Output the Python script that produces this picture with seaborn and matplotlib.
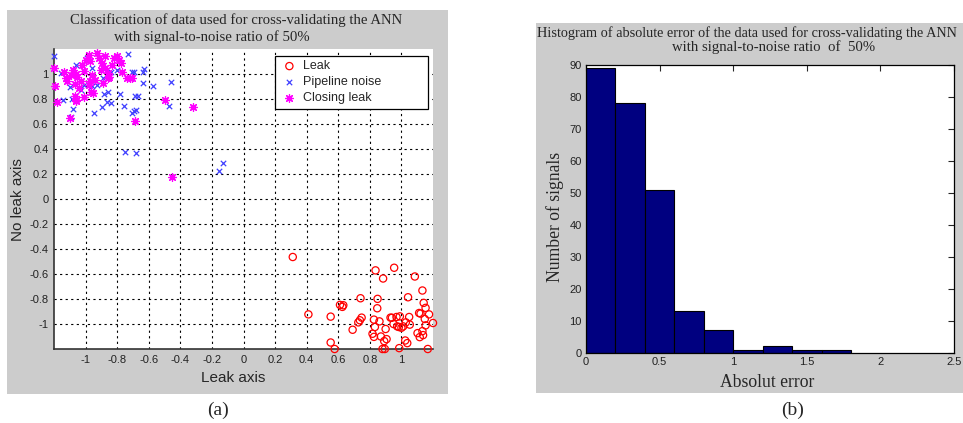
import numpy as np
import pandas as pd
import matplotlib
matplotlib.use("Agg")
import matplotlib.pyplot as plt
from matplotlib.patches import Rectangle
import seaborn as sns

# ---------------- data ----------------
leak_x = [0.312, 0.411, 0.552, 0.552, 0.577, 0.611, 0.626, 0.632, 0.691, 0.727, 0.741, 0.748,
          0.737, 0.836, 0.849, 0.847, 0.826, 0.861, 0.832, 0.817, 0.826, 0.884, 0.891, 0.880,
          0.895, 0.906, 0.900, 0.954, 0.931, 0.969, 0.973, 0.990, 0.984, 0.986, 1.011, 1.028,
          1.024, 1.037, 1.042, 1.049, 1.053, 1.085, 1.112, 1.121, 1.102, 1.116, 1.137, 1.133,
          1.141, 1.153, 1.148, 1.153, 1.175, 1.200, 1.167, 1.133, 0.940, 1.000, 0.870, 0.950]
leak_y = [-0.464, -0.923, -0.941, -1.148, -1.200, -0.847, -0.863, -0.850, -1.046, -0.987, -0.794, -0.949,
          -0.970, -0.571, -0.799, -0.874, -0.965, -0.979, -1.024, -1.078, -1.103, -0.636, -1.137, -1.200,
          -1.200, -1.121, -1.040, -0.550, -0.949, -0.944, -1.019, -0.939, -1.024, -1.193, -1.019, -0.987,
          -1.132, -1.153, -0.786, -0.944, -1.005, -0.620, -0.912, -0.917, -1.073, -1.105, -1.089, -0.732,
          -0.831, -0.871, -0.960, -1.011, -0.923, -0.992, -1.200, -1.057, -0.950, -1.030, -1.100, -1.000]

noise_x = [-1.200, -1.154, -1.137, -1.143, -1.088, -1.080, -1.095, -1.099, -1.063, -1.032, -1.011,
           -0.989, -0.958, -0.958, -0.948, -0.926, -0.899, -0.888, -0.884, -0.867, -0.859, -0.842,
           -0.838, -0.800, -0.779, -0.754, -0.733, -0.705, -0.695, -0.705, -0.695, -0.678, -0.684,
           -0.670, -0.752, -0.678, -0.638, -0.628, -0.636, -0.572, -0.457, -0.469, -0.132, -0.153]
noise_y = [1.140, 1.006, 1.019, 0.791, 0.799, 0.718, 0.657, 0.899, 1.072, 0.871, 0.912,
           1.126, 1.046, 0.900, 0.684, 0.912, 0.737, 0.971, 0.837, 0.778, 0.853, 0.764,
           1.019, 1.032, 0.837, 0.743, 1.158, 1.019, 1.019, 0.684, 0.700, 0.710, 0.826,
           0.826, 0.376, 0.368, 1.019, 1.040, 0.931, 0.903, 0.933, 0.740, 0.287, 0.220]

closing_x = [-1.200, -1.194, -1.179, -1.101, -1.063, -1.070, -1.126, -1.120, -1.095, -1.137, -1.080,
             -1.060, -1.052, -1.070, -1.042, -1.030, -1.010, -1.020, -1.000, -0.979, -0.970, -0.960,
             -0.970, -0.980, -0.968, -0.950, -0.940, -0.926, -0.915, -0.895, -0.900, -0.880, -0.874,
             -0.860, -0.852, -0.830, -0.820, -0.800, -0.790, -0.778, -0.768, -0.737, -0.720, -0.705,
             -0.684, -0.857, -0.890, -1.011, -1.060, -0.499, -0.320, -0.452]
closing_y = [1.051, 0.903, 0.778, 0.644, 0.791, 0.820, 0.965, 0.940, 0.992, 1.019, 1.030,
             1.000, 0.979, 0.920, 0.885, 0.940, 1.020, 1.070, 1.113, 1.153, 1.100, 0.990,
             0.940, 0.910, 0.858, 0.845, 0.950, 1.166, 1.126, 1.087, 1.030, 1.046, 1.140,
             1.006, 0.979, 1.070, 1.126, 1.140, 1.110, 1.090, 1.019, 0.971, 0.970, 0.970,
             0.622, 0.965, 0.930, 0.818, 0.780, 0.791, 0.737, 0.174]

hist_edges = [0.0, 0.2, 0.4, 0.6, 0.8, 1.0, 1.2, 1.4, 1.6, 1.8]
hist_counts = [89, 78, 51, 13, 7, 1, 2, 1, 1]

scatter_ticks = [-1, -0.8, -0.6, -0.4, -0.2, 0, 0.2, 0.4, 0.6, 0.8, 1]
hist_xticks = [0, 0.5, 1, 1.5, 2, 2.5]
hist_yticks = [0, 10, 20, 30, 40, 50, 60, 70, 80, 90]

# ---------------- figure ----------------
sns.set_style("white")
plt.rcParams['font.family'] = ['Liberation Sans', 'DejaVu Sans']

W, H = 963, 423
fig = plt.figure(figsize=(W / 100, H / 100), dpi=100)
fig.patch.set_facecolor("white")

def fx(px):
    return px / W

def fy(py):
    return 1 - py / H

gray = "#cccccc"
fig.patches.append(Rectangle((fx(7), fy(394)), fx(448) - fx(7), fy(10) - fy(394),
                             transform=fig.transFigure, facecolor=gray, edgecolor="none", zorder=-5))
fig.patches.append(Rectangle((fx(536), fy(393)), fx(963) - fx(536), fy(23) - fy(393),
                             transform=fig.transFigure, facecolor=gray, edgecolor="none", zorder=-5))

serif = ['Liberation Serif', 'DejaVu Serif']

# ---------- left: scatter ----------
ax1 = fig.add_axes([fx(54), fy(349), fx(433) - fx(54), fy(49) - fy(349)])
ax1.set_zorder(1)
ax1.set_facecolor("white")

sns.scatterplot(x=leak_x, y=leak_y, ax=ax1, marker='o', s=27, facecolor='none',
                edgecolor='#ff0000', linewidth=0.9, label='Leak', zorder=3, clip_on=False)
sns.scatterplot(x=noise_x, y=noise_y, ax=ax1, marker='x', s=15, color='#4040ff',
                linewidth=0.9, label='Pipeline noise', zorder=3, clip_on=False)
sns.scatterplot(x=closing_x, y=closing_y, ax=ax1, marker=(8, 2, 0), s=32, color='#ff00ff',
                linewidth=0.9, label='Closing leak', zorder=4, clip_on=False)

ax1.set_xlim(-1.2, 1.2)
ax1.set_ylim(-1.2, 1.2)
ax1.set_xticks(scatter_ticks)
ax1.set_yticks(scatter_ticks)
ax1.set_xticklabels([f"{t:g}" for t in scatter_ticks])
ax1.set_yticklabels([f"{t:g}" for t in scatter_ticks])
ax1.tick_params(direction='in', length=4, width=0.8, labelsize=8, colors='black',
                labelcolor='#222222', pad=4)
ax1.grid(True, color='black', linestyle=(0, (2, 3)), linewidth=0.8)
ax1.set_axisbelow(True)
for s in ['top', 'right']:
    ax1.spines[s].set_visible(False)
for s in ['left', 'bottom']:
    ax1.spines[s].set_color('#333333')
    ax1.spines[s].set_linewidth(1.2)
ax1.set_xlabel("")
ax1.set_ylabel("")

leg = ax1.legend(loc='upper left',
                 bbox_to_anchor=((275 - 54) / 379, (349 - 56) / 300, (428 - 275) / 379, 0.0),
                 mode='expand', borderaxespad=0, fontsize=9, frameon=True, fancybox=False,
                 edgecolor='black', framealpha=1, handletextpad=0.3, handlelength=1.6,
                 borderpad=0.35, labelspacing=0.32)
leg.get_frame().set_linewidth(0.9)
leg.set_zorder(10)

fig.text(fx(236), fy(20), "Classification of data used for cross-validating the ANN",
         ha='center', va='center', fontsize=10.6, family=serif)
fig.text(fx(212), fy(37), "with signal-to-noise ratio of 50%",
         ha='center', va='center', fontsize=10.6, family=serif)
fig.text(fx(233), fy(378), "Leak axis", ha='center', va='center', fontsize=11)
fig.text(fx(18), fy(200), "No leak axis", ha='center', va='center', fontsize=11, rotation=90)
fig.text(fx(218), fy(410), "(a)", ha='center', va='center', fontsize=14, family=serif)

# ---------- right: histogram ----------
ax2 = fig.add_axes([fx(586), fy(352.7), fx(954) - fx(586), fy(65) - fy(352.7)])
ax2.set_zorder(1)
ax2.set_facecolor("white")
centers = [(hist_edges[i] + hist_edges[i + 1]) / 2 for i in range(len(hist_counts))]
sns.histplot(x=centers, weights=hist_counts, bins=hist_edges, ax=ax2,
             color='#000080', edgecolor='black', linewidth=0.8, alpha=1)
ax2.set_xlim(0, 2.5)
ax2.set_ylim(0, 90)
ax2.set_xticks(hist_xticks)
ax2.set_yticks(hist_yticks)
ax2.set_xticklabels([f"{t:g}" for t in hist_xticks])
ax2.set_yticklabels([f"{t:g}" for t in hist_yticks])
ax2.tick_params(direction='in', length=4, width=0.8, labelsize=8, top=True, right=True,
                labelcolor='#222222', pad=3)
for s in ax2.spines.values():
    s.set_visible(True)
    s.set_color('black')
    s.set_linewidth(0.9)
ax2.set_xlabel("")
ax2.set_ylabel("")

fig.text(fx(537), fy(33), "Histogram of absolute error of the data used for cross-validating the ANN",
         ha='left', va='center', fontsize=10.3, family=serif)
fig.text(fx(774), fy(47), "with signal-to-noise ratio  of  50%",
         ha='center', va='center', fontsize=10.6, family=serif)
fig.text(fx(767), fy(382), "Absolut error", ha='center', va='center', fontsize=12.7, family=serif)
fig.text(fx(555), fy(217), "Number of signals", ha='center', va='center', fontsize=12.7,
         family=serif, rotation=90)
fig.text(fx(793), fy(410), "(b)", ha='center', va='center', fontsize=14, family=serif)

fig.savefig("out.png", dpi=100)
